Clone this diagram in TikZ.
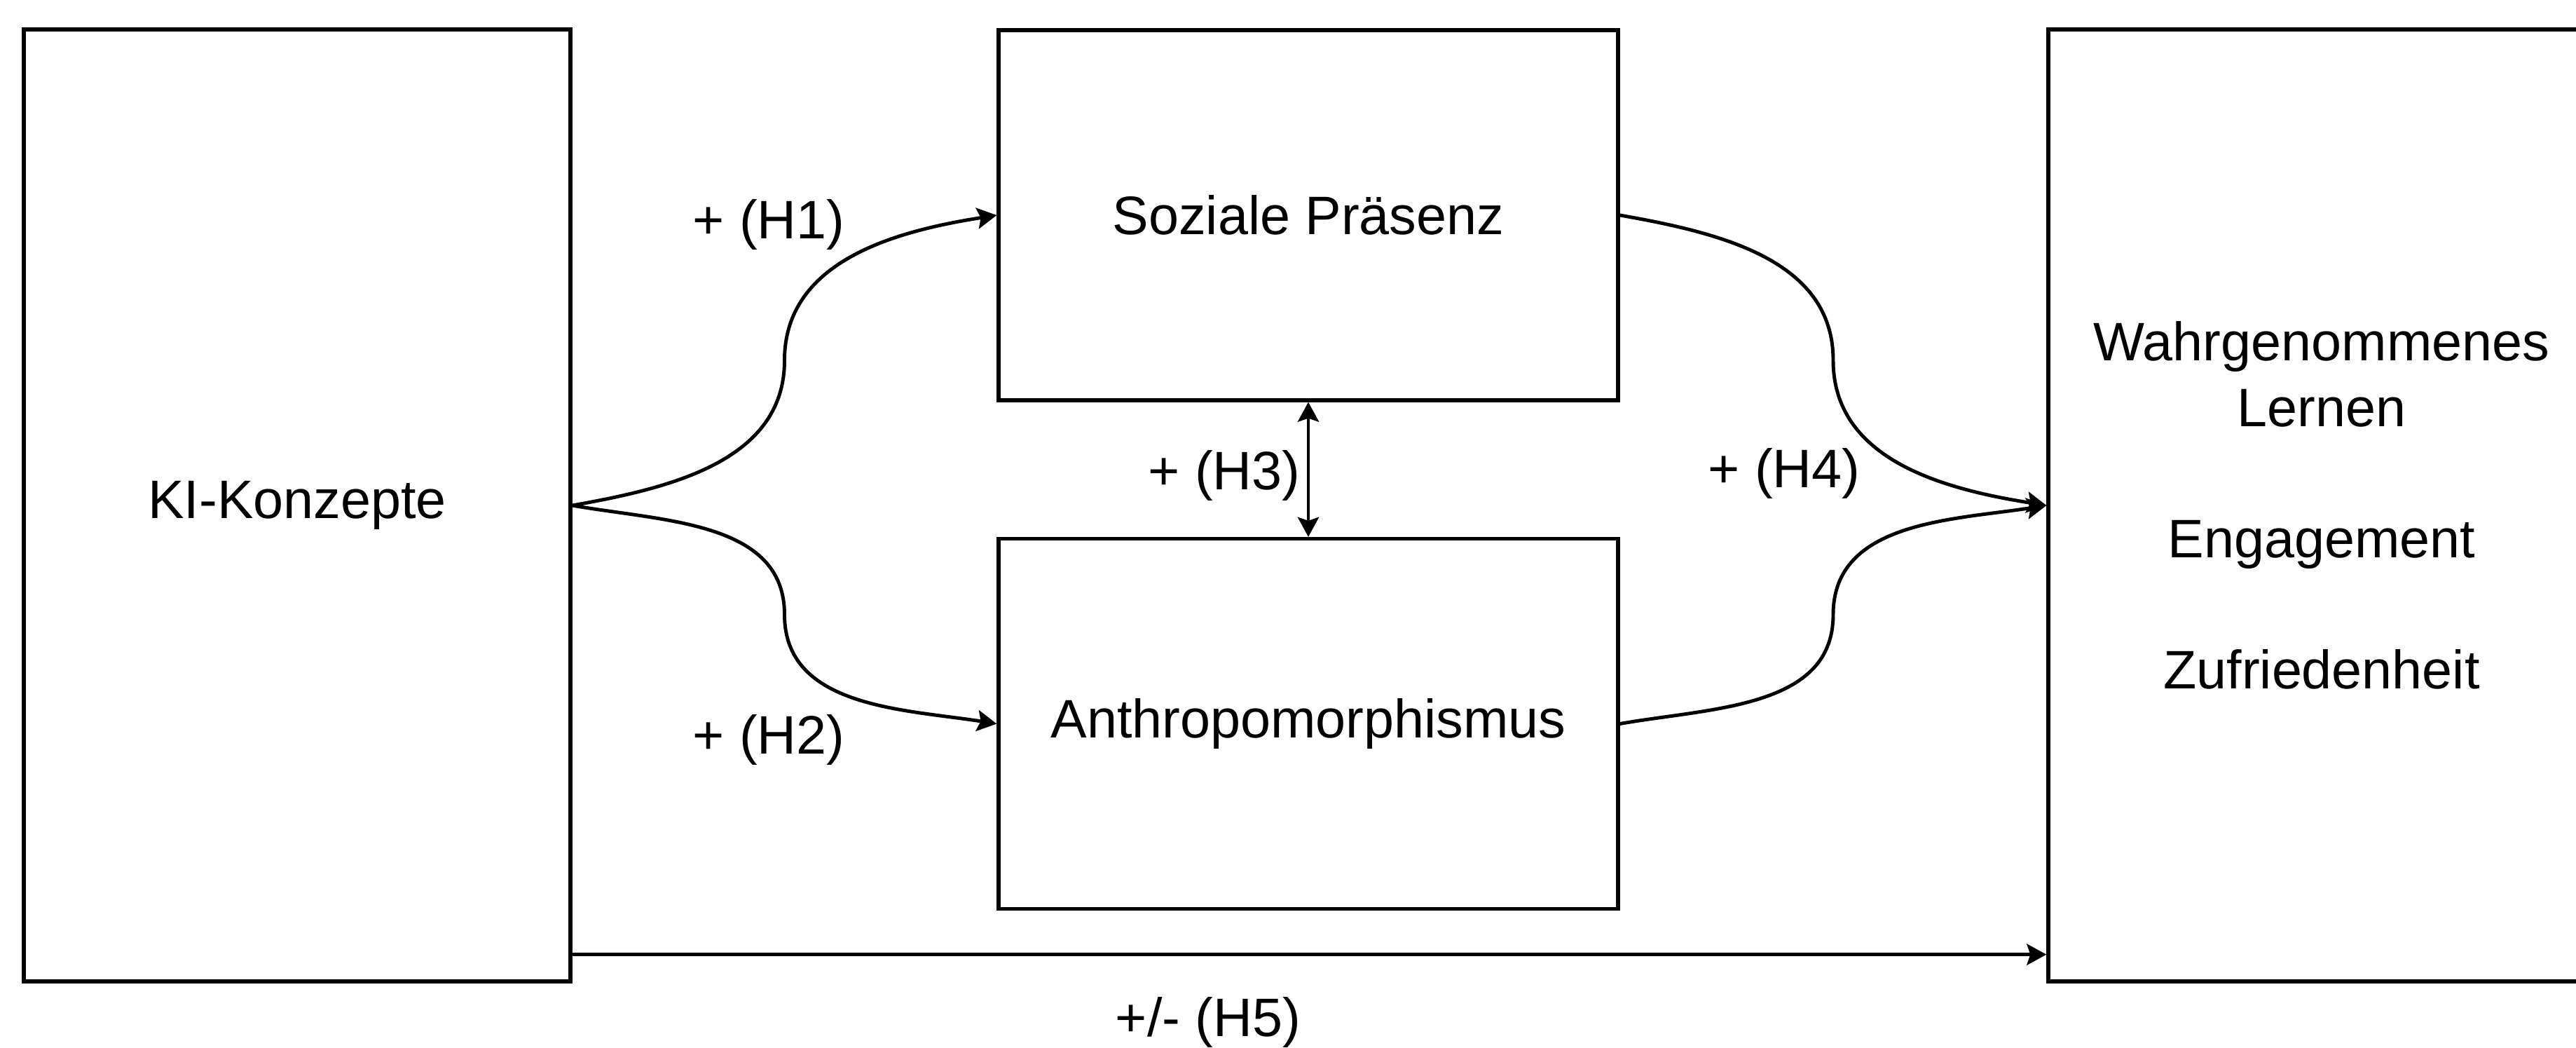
\documentclass[tikz,border=0pt]{standalone}
\usepackage{fontspec}
\setmainfont{Liberation Sans}
\usetikzlibrary{arrows.meta,positioning,calc}

\begin{document}
\begin{tikzpicture}[
  font=\fontsize{22}{26.5}\selectfont,
  bigbox/.style={draw=black,line width=1.5pt,minimum width=7.8cm,minimum height=13.58cm,align=center},
  midbox/.style={draw=black,line width=1.5pt,minimum width=8.84cm,minimum height=5.28cm},
  tip/.style={-{Stealth[length=2.8mm,width=3mm,inset=0.5mm]}},
  link/.style={line width=1.4pt,tip},
  hyp/.style={inner sep=0pt}
]
\useasboundingbox (0,0) rectangle (36.76,14.94);
\node[bigbox] (ki) at (4.24,7.73) {KI-Konzepte};
\node[midbox] (soz) at (18.67,11.87) {Soziale Präsenz};
\node[midbox] (anth) at (18.67,4.615) {Anthropomorphismus};
\node[bigbox] (lern) at (33.13,7.73)
  {Wahrgenommenes\\Lernen\\[0.94cm]Engagement\\[0.94cm]Zufriedenheit};
\draw[link] (ki.east) to[out=10,in=-90] ($(ki.east)!.5!(soz.west)$)
  to[out=90,in=189] (soz.west);
\draw[link] (ki.east) to[out=-10,in=90] ($(ki.east)!.5!(anth.west)$)
  to[out=-90,in=171] (anth.west);
\draw[link] (soz.east) to[out=-10,in=90] ($(soz.east)!.5!(lern.west)$)
  to[out=-90,in=171] (lern.west);
\draw[link] (anth.east) to[out=10,in=-90] ($(anth.east)!.5!(lern.west)$)
  to[out=90,in=189] (lern.west);
\draw[line width=1.4pt,{Stealth[length=2.8mm,width=3mm,inset=0.5mm]}-{Stealth[length=2.8mm,width=3mm,inset=0.5mm]}]
  (soz.south) -- (anth.north);
\draw[link] ([yshift=0.41cm]ki.south east) -- ([yshift=0.41cm]lern.south west);
\node[hyp] (h1) at (10.97,11.74) {+ (H1)};
\node[hyp] (h2) at (10.97,4.39) {+ (H2)};
\node[hyp] (h3) at (17.47,8.16) {+ (H3)};
\node[hyp] (h4) at (25.46,8.19) {+ (H4)};
\node[hyp] (h5) at (17.24,0.36) {+/- (H5)};
\end{tikzpicture}
\end{document}
